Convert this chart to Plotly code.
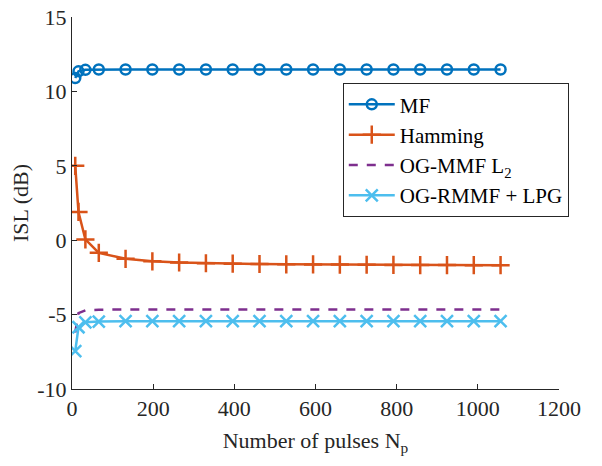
import plotly.graph_objects as go

# Data
n_pulses = [8, 16, 33, 66, 132, 198, 264, 330, 396, 462, 528, 594, 660, 726, 792, 858, 924, 990, 1056]
isl_mf = [10.9, 11.35, 11.45, 11.47, 11.47, 11.47, 11.47, 11.47, 11.47, 11.47, 11.47, 11.47, 11.47, 11.47, 11.47, 11.47, 11.47, 11.47, 11.47]
isl_hamming = [5.0, 1.9, 0.05, -0.85, -1.25, -1.42, -1.5, -1.55, -1.58, -1.6, -1.62, -1.63, -1.64, -1.65, -1.66, -1.67, -1.67, -1.68, -1.68]
isl_ogmmf = [-6.2, -4.9, -4.72, -4.67, -4.65, -4.65, -4.65, -4.65, -4.65, -4.65, -4.65, -4.65, -4.65, -4.65, -4.65, -4.65, -4.65, -4.65, -4.65]
isl_ogrmmf = [-7.45, -5.85, -5.52, -5.47, -5.44, -5.44, -5.44, -5.44, -5.44, -5.44, -5.44, -5.44, -5.44, -5.44, -5.44, -5.44, -5.44, -5.44, -5.44]

x_ticks = [0, 200, 400, 600, 800, 1000, 1200]
x_ticklabels = ["0", "200", "400", "600", "800", "1000", "1200"]
y_ticks = [-10, -5, 0, 5, 10, 15]
y_ticklabels = ["-10", "-5", "0", "5", "10", "15"]

FONT = "Liberation Serif"
AX = "#262626"

fig = go.Figure()
fig.add_trace(go.Scatter(
    x=n_pulses, y=isl_mf, name="MF", mode="lines+markers",
    line=dict(color="#0072BD", width=2.5),
    marker=dict(symbol="circle-open", size=10, color="#0072BD", line=dict(width=2.5)),
))
fig.add_trace(go.Scatter(
    x=n_pulses, y=isl_hamming, name="Hamming", mode="lines+markers",
    line=dict(color="#D95319", width=2.5),
    marker=dict(symbol="cross-thin", size=13, color="#D95319", line=dict(width=2.5, color="#D95319")),
))
fig.add_trace(go.Scatter(
    x=n_pulses, y=isl_ogmmf, name="OG-MMF L<sub>2</sub>", mode="lines",
    line=dict(color="#7E2F8E", width=2.5, dash="dash"),
))
fig.add_trace(go.Scatter(
    x=n_pulses, y=isl_ogrmmf, name="OG-RMMF + LPG", mode="lines+markers",
    line=dict(color="#4DBEEE", width=2.5),
    marker=dict(symbol="x-thin", size=12, color="#4DBEEE", line=dict(width=2.5, color="#4DBEEE")),
))

fig.update_layout(
    width=602, height=466,
    margin=dict(l=72, r=43, t=17, b=77),
    paper_bgcolor="white", plot_bgcolor="white",
    font=dict(family=FONT, size=22, color=AX),
    showlegend=True,
    legend=dict(
        x=0.556, y=0.822, xanchor="left", yanchor="top",
        bgcolor="white", bordercolor=AX, borderwidth=1,
        font=dict(family=FONT, size=21, color="black"),
        tracegroupgap=0, itemwidth=46,
    ),
    xaxis=dict(
        range=[0, 1200], tickmode="array", tickvals=x_ticks, ticktext=x_ticklabels,
        showgrid=False, zeroline=False, showline=True, linecolor=AX, linewidth=1,
        ticks="inside", ticklen=5, tickcolor=AX, automargin=False,
        tickfont=dict(family=FONT, size=22, color=AX),
        title=dict(text="Number of pulses N<sub>p</sub>", standoff=12, font=dict(family=FONT, size=22, color=AX)),
    ),
    yaxis=dict(
        range=[-10, 15], tickmode="array", tickvals=y_ticks, ticktext=y_ticklabels,
        showgrid=False, zeroline=False, showline=True, linecolor=AX, linewidth=1,
        ticks="inside", ticklen=5, tickcolor=AX, automargin=False,
        tickfont=dict(family=FONT, size=22, color=AX),
        title=dict(text="ISL (dB)", standoff=2, font=dict(family=FONT, size=22, color=AX)),
    ),
)

fig.write_html("out.html")
